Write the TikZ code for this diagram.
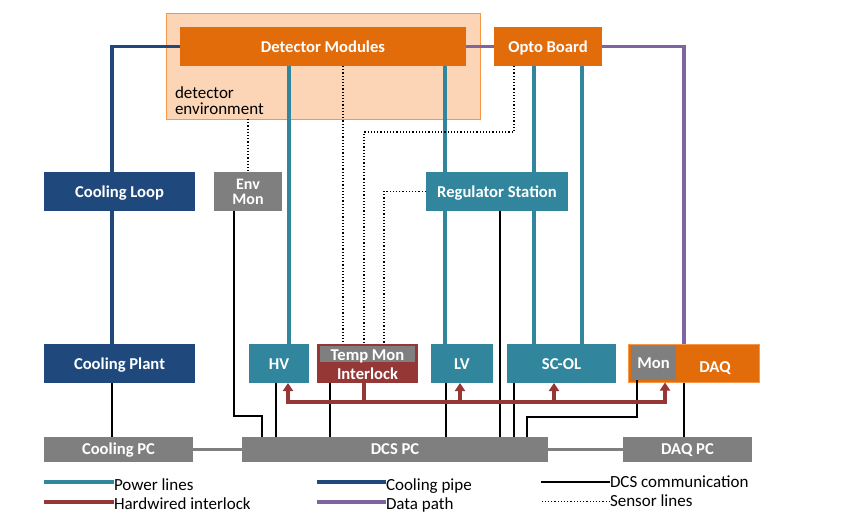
\documentclass[tikz,border=0pt]{standalone}
\usepackage{fontspec}
\setmainfont{Carlito}
\usetikzlibrary{arrows.meta,calc}

\definecolor{dmorange}{HTML}{E36C0A}
\definecolor{envfill}{HTML}{FBD5B5}
\definecolor{envline}{HTML}{F79646}
\definecolor{powerteal}{HTML}{31859C}
\definecolor{coolblue}{HTML}{1F497D}
\definecolor{pcgray}{HTML}{7F7F7F}
\definecolor{ilkred}{HTML}{953735}
\definecolor{datapurple}{HTML}{8064A2}

\begin{document}
\begin{tikzpicture}[y=1pt, x=1pt, yscale=-1, inner sep=0pt, outer sep=0pt,
  boxbase/.style={rectangle, text=white, align=center,
    font=\fontsize{16.6}{13}\selectfont\bfseries},
  box/.style={boxbase, text height=12pt, text depth=0pt},
  orangebox/.style={box, fill=dmorange},
  tealbox/.style={box, fill=powerteal},
  bluebox/.style={box, fill=coolblue},
  graybox/.style={box, fill=pcgray},
  pcbox/.style={graybox, text height=9pt, minimum height=25pt},
  redbox/.style={box, fill=ilkred},
  legtext/.style={text=black, font=\fontsize{17}{17}\selectfont},
  power/.style={draw=powerteal, line width=3.6pt},
  coolpipe/.style={draw=coolblue, line width=3.6pt},
  datapath/.style={draw=datapurple, line width=3.6pt},
  ilkline/.style={draw=ilkred, line width=3.6pt},
  ilkarrow/.style={ilkline, -{Triangle[width=10pt,length=8pt]}},
  dcsline/.style={draw=black, line width=1.4pt},
  sensor/.style={draw=black, line width=1.2pt, dotted},
  pclink/.style={draw=pcgray, line width=3.6pt}]
  \useasboundingbox (0,0) rectangle (865,529);

  \node[fill=envfill, draw=envline, line width=0.8pt, minimum width=314pt,
    minimum height=106pt] (env) at (323,66) {};
  \node[legtext, anchor=base west, align=left,
    font=\fontsize{17}{16}\selectfont] (envlbl) at (175,115) {detector\\environment};

  \node[orangebox, minimum width=286pt, minimum height=39pt] (dm) at (323,46.5)
    {Detector Modules};
  \node[orangebox, minimum width=108pt, minimum height=39pt] (opto) at (548,46.5)
    {Opto Board};

  \node[bluebox, minimum width=151pt, minimum height=39pt] (cloop) at (119.5,191.5)
    {Cooling Loop};
  \node[boxbase, fill=pcgray, minimum width=68pt, minimum height=39pt,
    font=\fontsize{16}{15}\selectfont\bfseries] (envmon) at (248,191.5) {Env\\Mon};
  \node[tealbox, minimum width=142pt, minimum height=39pt] (reg) at (497,191.5)
    {Regulator Station};

  \node[bluebox, minimum width=151pt, minimum height=39pt] (cplant) at (119.5,363.5)
    {Cooling Plant};
  \node[tealbox, minimum width=60pt, minimum height=39pt] (hv) at (279,363.5) {HV};
  \node[redbox, minimum width=101pt, minimum height=39pt] (tmi) at (367.5,363.5) {};
  \node[graybox, minimum width=95pt, minimum height=16pt] (tmon) at (367.5,354)
    {Temp Mon};
  \node[box] (ilk) at (367.5,373) {Interlock};
  \node[tealbox, minimum width=62pt, minimum height=39pt] (lv) at (462,363.5) {LV};
  \node[tealbox, minimum width=109pt, minimum height=39pt] (scol) at (561.5,363.5)
    {SC-OL};
  \node[orangebox, draw=envline, line width=0.8pt, minimum width=131pt,
    minimum height=38pt] (daq) at (693.5,363.5) {};
  \node[graybox, text height=10pt, minimum width=45pt, minimum height=34pt] (mon)
    at (653.5,363) {Mon};
  \node[box] (daqlbl) at (715,367) {DAQ};

  \node[pcbox, minimum width=149pt] (cpc) at (118.5,449.5) {Cooling PC};
  \node[pcbox, minimum width=306pt] (dcs) at (395,449.5) {DCS PC};
  \node[pcbox, minimum width=129pt] (daqpc) at (687.5,449.5) {DAQ PC};

  \path[coolpipe] (dm.west) -| (cloop.north -| 112,0);
  \path[coolpipe] (cloop.south -| 112,0) -- (cplant.north -| 112,0);

  \path[datapath] (dm.east) -- (opto.west);
  \path[datapath] (opto.east) -| (daq.north -| 684,0);

  \path[power] (dm.south -| 289,0) -- (hv.north -| 289,0);
  \path[power] (dm.south -| 445,0) -- (reg.north -| 445,0);
  \path[power] (reg.south -| 445,0) -- (lv.north -| 445,0);
  \path[power] (opto.south -| 534,0) -- (reg.north -| 534,0);
  \path[power] (reg.south -| 534,0) -- (scol.north -| 534,0);
  \path[power] (opto.south -| 582,0) -- (scol.north -| 582,0);

  \path[sensor] (env.south -| envmon) -- (envmon.north);
  \path[sensor] (dm.south -| 343,0) -- (tmi.north -| 343,0);
  \path[sensor] (opto.south -| 514,0) |- (364,132) -- (tmi.north -| 364,0);
  \path[sensor] (reg.west) -| (tmi.north -| 384,0);

  \path[dcsline] (cplant.south -| 112,0) -- (cpc.north -| 112,0);
  \path[dcsline] (envmon.south -| 234,0) |- (262,416) -- (dcs.north -| 262,0);
  \path[dcsline] (hv.south -| 276,0) -- (dcs.north -| 276,0);
  \path[dcsline] (tmi.south -| 330,0) -- (dcs.north -| 330,0);
  \path[dcsline] (lv.south -| 446,0) -- (dcs.north -| 446,0);
  \path[dcsline] (reg.south -| 500,0) -- (dcs.north -| 500,0);
  \path[dcsline] (scol.south -| 514,0) -- (dcs.north -| 514,0);
  \path[dcsline] (mon.south -| 637,0) |- (527,417) -- (dcs.north -| 527,0);
  \path[dcsline] (daq.south -| 684,0) -- (daqpc.north -| 684,0);

  \path[pclink] (cpc.east) -- (dcs.west);
  \path[pclink] (dcs.east) -- (daqpc.west);

  \coordinate (ilkbus) at (364,402);
  \path[ilkline] (tmi.south -| ilkbus) -- (ilkbus);
  \path[ilkarrow] (ilkbus) -| (hv.south -| 288,0);
  \path[ilkarrow] (ilkbus) -| (lv.south -| 460,0);
  \path[ilkarrow] (ilkbus) -| (scol.south -| 554,0);
  \path[ilkarrow] (ilkbus) -| (daq.south -| 665,0);

  \node[legtext, anchor=base west] (lgpow) at (114,490.5) {Power lines};
  \node[legtext, anchor=base west] (lgilk) at (114,509) {Hardwired interlock};
  \node[legtext, anchor=base west] (lgcool) at (386,490.5) {Cooling pipe};
  \node[legtext, anchor=base west] (lgdata) at (386,509) {Data path};
  \node[legtext, anchor=base west] (lgdcs) at (610,487.5) {DCS communication};
  \node[legtext, anchor=base west] (lgsens) at (610,506.5) {Sensor lines};
  \path[power] (lgpow.west |- 0,482) -- (44,482);
  \path[ilkline] (lgilk.west |- 0,502) -- (44,502);
  \path[coolpipe] (lgcool.west |- 0,482) -- (317,482);
  \path[datapath] (lgdata.west |- 0,502) -- (317,502);
  \path[dcsline] (lgdcs.west |- 0,482) -- (541,482);
  \path[sensor] (lgsens.west |- 0,501.5) -- (541,501.5);

\end{tikzpicture}
\end{document}
